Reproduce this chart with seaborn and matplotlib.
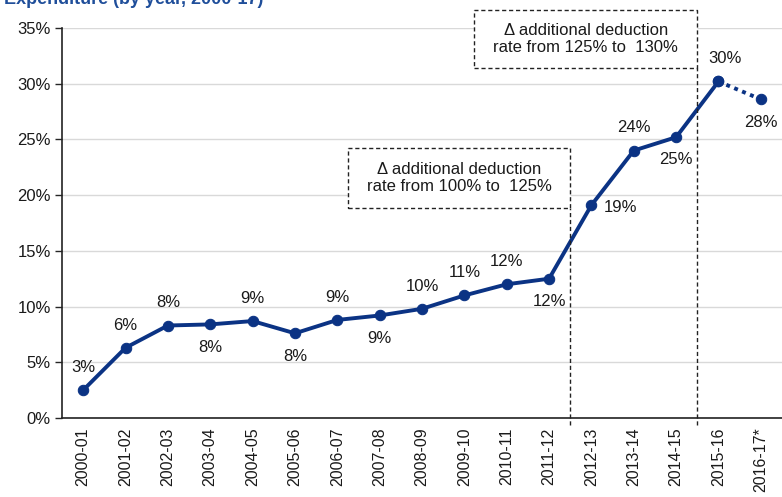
import numpy as np
import pandas as pd
import matplotlib
matplotlib.use("Agg")
import matplotlib.pyplot as plt
from matplotlib.patches import Rectangle
import seaborn as sns

# Data
years = ["2000-01", "2001-02", "2002-03", "2003-04", "2004-05", "2005-06",
         "2006-07", "2007-08", "2008-09", "2009-10", "2010-11", "2011-12",
         "2012-13", "2013-14", "2014-15", "2015-16", "2016-17*"]
values = [2.5, 6.3, 8.3, 8.4, 8.7, 7.6, 8.8, 9.2, 9.8, 11.0, 12.0, 12.5,
          19.1, 24.0, 25.2, 30.2, 28.6]
labels = ["3%", "6%", "8%", "8%", "9%", "8%", "9%", "9%", "10%", "11%", "12%",
          "12%", "19%", "24%", "25%", "30%", "28%"]
# label placement: above / below / right
label_pos = ["a", "a", "a", "b", "a", "b", "a", "b", "a", "a", "a", "b",
             "r", "a", "b", "a", "b"]

NAVY = "#0B3384"
INK = "#1a1a1a"

sns.set_style("white")
plt.rcParams["font.family"] = ["Liberation Sans", "DejaVu Sans"]

fig = plt.figure(figsize=(7.82, 4.97), dpi=100)
ax = fig.add_axes([62 / 782, 79 / 497, 720 / 782, 390 / 497])

df = pd.DataFrame({"year": years, "value": values, "x": np.arange(len(years))})
solid = df.iloc[:-1]
dotted = df.iloc[-2:]

sns.lineplot(data=solid, x="x", y="value", ax=ax, color=NAVY, linewidth=2.8,
             marker="o", markersize=7.5, markeredgecolor=NAVY)
sns.lineplot(data=dotted, x="x", y="value", ax=ax, color=NAVY, linewidth=2.8,
             linestyle=(0, (1, 1.2)), marker="o", markersize=7.5, markeredgecolor=NAVY)

# value labels
for i, (v, lab, p) in enumerate(zip(values, labels, label_pos)):
    if p == "a":
        off, va, ha = (0, 11), "bottom", "center"
    elif p == "b":
        off, va, ha = (0, -11), "top", "center"
    else:
        off, va, ha = (9, -2), "center", "left"
    if i == 15:
        off = (off[0] + 5, off[1])
    ax.annotate(lab, (i, v), xytext=off, textcoords="offset points",
                ha=ha, va=va, fontsize=12, color=INK)

ax.set_xlim(-0.5, len(years) - 0.5)
ax.set_ylim(0, 35)
ax.set_yticks(np.arange(0, 36, 5))
ax.set_yticklabels([f"{t}%" for t in range(0, 36, 5)], fontsize=12, color=INK)
ax.set_xticks(np.arange(len(years)))
ax.set_xticklabels(years, rotation=90, fontsize=11.5, color=INK)
ax.tick_params(axis="x", length=0, pad=7)
ax.tick_params(axis="y", length=5, width=1, direction="out", left=True, pad=3)
ax.set_xlabel("")
ax.set_ylabel("")

ax.yaxis.grid(True, color="#d9d9d9", linewidth=1)
ax.set_axisbelow(True)
for s in ["top", "right"]:
    ax.spines[s].set_visible(False)
for s in ["left", "bottom"]:
    ax.spines[s].set_color("#222222")
    ax.spines[s].set_linewidth(1.2)

# policy change markers
dash = (0, (3, 2))
ax.plot([11.5, 11.5], [-0.6, 18.85], color="#222222", linestyle=dash,
        linewidth=1, clip_on=False)
ax.plot([14.5, 14.5], [-0.6, 31.4], color="#222222", linestyle=dash,
        linewidth=1, clip_on=False)

ax.add_patch(Rectangle((6.25, 18.85), 11.5 - 6.25, 24.2 - 18.85, facecolor="white",
                       edgecolor="#222222", linestyle=dash, linewidth=1, zorder=3))
ax.text((6.25 + 11.5) / 2, (18.85 + 24.2) / 2,
        "\u0394 additional deduction\nrate from 100% to  125%",
        ha="center", va="center", fontsize=12, color=INK, linespacing=1.2, zorder=4)

ax.add_patch(Rectangle((9.23, 31.4), 14.5 - 9.23, 36.6 - 31.4, facecolor="white",
                       edgecolor="#222222", linestyle=dash, linewidth=1, zorder=3,
                       clip_on=False))
ax.text((9.23 + 14.5) / 2, (31.4 + 36.6) / 2,
        "\u0394 additional deduction\nrate from 125% to  130%",
        ha="center", va="center", fontsize=12, color=INK, linespacing=1.2,
        zorder=4, clip_on=False)

# title, clipped at top edge as in the source
fig.text(263 / 782, 1 + 1 / 497, "Expenditure (by year, 2000-17)", ha="right",
         va="center", fontsize=13, fontweight="bold", color="#1F4E9A")

fig.savefig("out.png", dpi=100)
